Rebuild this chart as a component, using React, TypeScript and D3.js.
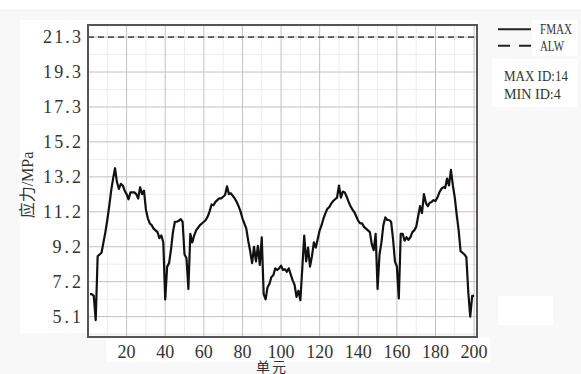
import React from "react";
import * as d3 from "d3";

// 单元 1..200 的最大应力 (MPa)
const fmax = [
  6.4, 6.4, 6.3, 4.9, 8.6, 8.7, 8.8, 9.4, 10.0, 10.7,
  11.5, 12.4, 13.1, 13.7, 12.9, 12.5, 12.8, 12.7, 12.4, 12.2,
  11.9, 12.3, 12.3, 12.3, 12.2, 11.95, 12.6, 12.2, 12.4, 11.3,
  10.8, 10.5, 10.4, 10.2, 10.1, 10.0, 9.65, 9.8, 9.4, 6.1,
  8.0, 8.2, 9.0, 10.0, 10.6, 10.6, 10.65, 10.75, 10.6, 8.7,
  8.5, 6.7, 9.9, 9.4, 9.8, 10.1, 10.25, 10.4, 10.5, 10.6,
  10.7, 10.9, 11.2, 11.6, 11.55, 11.75, 11.85, 11.95, 11.95, 12.05,
  12.15, 12.65, 12.2, 12.25, 12.1, 11.95, 11.75, 11.5, 11.2, 10.8,
  10.5, 10.2, 9.5, 8.9, 8.2, 9.15, 8.3, 9.2, 8.1, 9.7,
  6.4, 6.1, 6.8, 7.0, 7.4, 7.5, 7.9, 7.8, 7.9, 8.05,
  7.8, 7.85, 7.7, 7.9, 7.55, 7.2, 6.95, 6.25, 6.6, 6.05,
  7.9, 9.8, 8.3, 9.1, 8.0, 8.6, 9.4, 9.1, 9.6, 10.1,
  10.4, 10.8, 11.1, 11.35, 11.45, 11.65, 11.8, 11.9, 12.0, 12.7,
  12.0, 12.35, 12.3, 12.05, 11.75, 11.5, 11.3, 11.15, 10.9, 10.65,
  10.5, 10.5, 10.3, 10.2, 10.1, 10.0, 9.3, 8.95, 9.9, 6.7,
  8.7, 9.4, 10.4, 10.85, 10.7, 10.7, 10.6, 9.6, 8.3, 8.0,
  6.15, 9.9, 9.9, 9.5, 9.7, 9.55, 9.7, 10.0, 10.1, 10.3,
  10.9, 11.5, 11.1, 12.2, 11.7, 11.5, 11.7, 11.75, 11.85, 11.8,
  12.0, 12.3, 12.5, 12.6, 12.55, 13.1, 12.7, 13.6, 12.7, 12.0,
  11.0, 10.1, 8.9, 8.8, 8.7, 8.55, 6.5, 5.1, 6.3, 6.3,
];
const alw = 21.3;

const xTicks = [20, 40, 60, 80, 100, 120, 140, 160, 180, 200];
const yTickValues = [5.1, 7.125, 9.15, 11.175, 13.2, 15.225, 17.25, 19.275, 21.3];
const yTickLabels = ["5.1", "7.2", "9.2", "11.2", "13.2", "15.2", "17.3", "19.3", "21.3"];
const legendItems = ["FMAX", "ALW"];
const infoLines = ["MAX ID:14", "MIN ID:4"];

const W = 581;
const H = 374;
const m = { left: 88, right: 477, top: 25, bottom: 337 };
const serif = '"Liberation Serif", "Noto Sans CJK SC", serif';

const App: React.FC = () => {
  const x = d3.scaleLinear().domain([0, 201.5]).range([m.left, m.right]);
  const y = d3.scaleLinear().domain([3.92, 22.0]).range([m.bottom, m.top]);

  const line = d3
    .line<number>()
    .x((_, i) => x(i + 1))
    .y((d) => y(d));

  // 次网格：主刻度之间的中线
  const xMinor = d3.range(10, 201, 20);
  const yStep = yTickValues[1] - yTickValues[0];
  const yMinor = d3
    .range(yTickValues[0] - yStep / 2, 22, yStep)
    .filter((v) => v > 3.92);

  return (
    <svg
      width={W}
      height={H}
      style={{ position: "absolute", left: 0, top: 0, background: "#fff" }}
    >
      <rect x={0} y={10} width={W} height={H - 10} fill="#f8f8f8" />
      <line x1={0} x2={W} y1={10} y2={10} stroke="#eeeeee" />
      <rect x={20} y={20} width={m.right - 20} height={313} fill="#fff" />
      <rect x={106} y={337} width={384} height={25} fill="#fff" />
      <rect x={532} y={20} width={45} height={36} fill="#fff" />
      <rect x={492} y={59} width={85} height={48} fill="#fff" />
      <rect x={498} y={296} width={55} height={29} fill="#fff" />

      {/* 网格 */}
      <g>
        {xMinor.map((v) => (
          <line key={"xm" + v} x1={x(v)} x2={x(v)} y1={m.top} y2={m.bottom} stroke="#f0ebeb" />
        ))}
        {yMinor.map((v) => (
          <line key={"ym" + v} x1={m.left} x2={m.right} y1={y(v)} y2={y(v)} stroke="#f0ebeb" />
        ))}
        {xTicks.map((v) => (
          <line key={"xg" + v} x1={x(v)} x2={x(v)} y1={m.top} y2={m.bottom} stroke="#c9bfbf" />
        ))}
        {yTickValues.map((v) => (
          <line key={"yg" + v} x1={m.left} x2={m.right} y1={y(v)} y2={y(v)} stroke="#c9bfbf" />
        ))}
      </g>

      {/* 许用应力 */}
      <line
        x1={m.left}
        x2={m.right}
        y1={y(alw)}
        y2={y(alw)}
        stroke="#555"
        strokeWidth={1.6}
        strokeDasharray="6,4"
      />

      <path d={line(fmax) ?? ""} fill="none" stroke="#111" strokeWidth={2.2} strokeLinejoin="round" />

      <rect
        x={m.left}
        y={m.top}
        width={m.right - m.left}
        height={m.bottom - m.top}
        fill="none"
        stroke="#555"
        strokeWidth={2}
      />

      {/* 刻度标签 */}
      {yTickValues.map((v, i) => (
        <text
          key={"yl" + i}
          x={81}
          y={y(v)}
          dy="0.35em"
          textAnchor="end"
          fontFamily={serif}
          fontSize={18}
          fill="#333"
          textLength={yTickLabels[i].length * 9.5}
        >
          {yTickLabels[i]}
        </text>
      ))}
      {xTicks.map((v) => (
        <text
          key={"xl" + v}
          x={x(v)}
          y={358}
          textAnchor="middle"
          fontFamily={serif}
          fontSize={18}
          fill="#333"
        >
          {v}
        </text>
      ))}

      <text
        transform={`translate(27,185) rotate(-90)`}
        textAnchor="middle"
        dy="0.35em"
        fontFamily={serif}
        fontSize={16}
        fill="#333"
      >
        应力/MPa
      </text>
      <text
        x={272}
        y={372}
        textAnchor="middle"
        fontFamily={serif}
        fontSize={14}
        letterSpacing={2}
        fill="#333"
      >
        单元
      </text>

      {/* 图例 */}
      {legendItems.map((name, i) => (
        <g key={name} transform={`translate(0,${29.3 + i * 16.4})`}>
          <line
            x1={498}
            x2={531}
            stroke="#222"
            strokeWidth={2}
            strokeDasharray={i === 1 ? "12,9" : undefined}
          />
          <text
            x={540}
            dy="0.35em"
            fontFamily={serif}
            fontSize={14}
            fill="#333"
            textLength={name.length * 8}
            lengthAdjust="spacingAndGlyphs"
          >
            {name}
          </text>
        </g>
      ))}
      {infoLines.map((t, i) => (
        <text
          key={t}
          x={504}
          y={76 + i * 18.3}
          dy="0.35em"
          fontFamily={serif}
          fontSize={14}
          fill="#333"
          textLength={t.length * 7.1}
          lengthAdjust="spacingAndGlyphs"
        >
          {t}
        </text>
      ))}
    </svg>
  );
};

export default App;
